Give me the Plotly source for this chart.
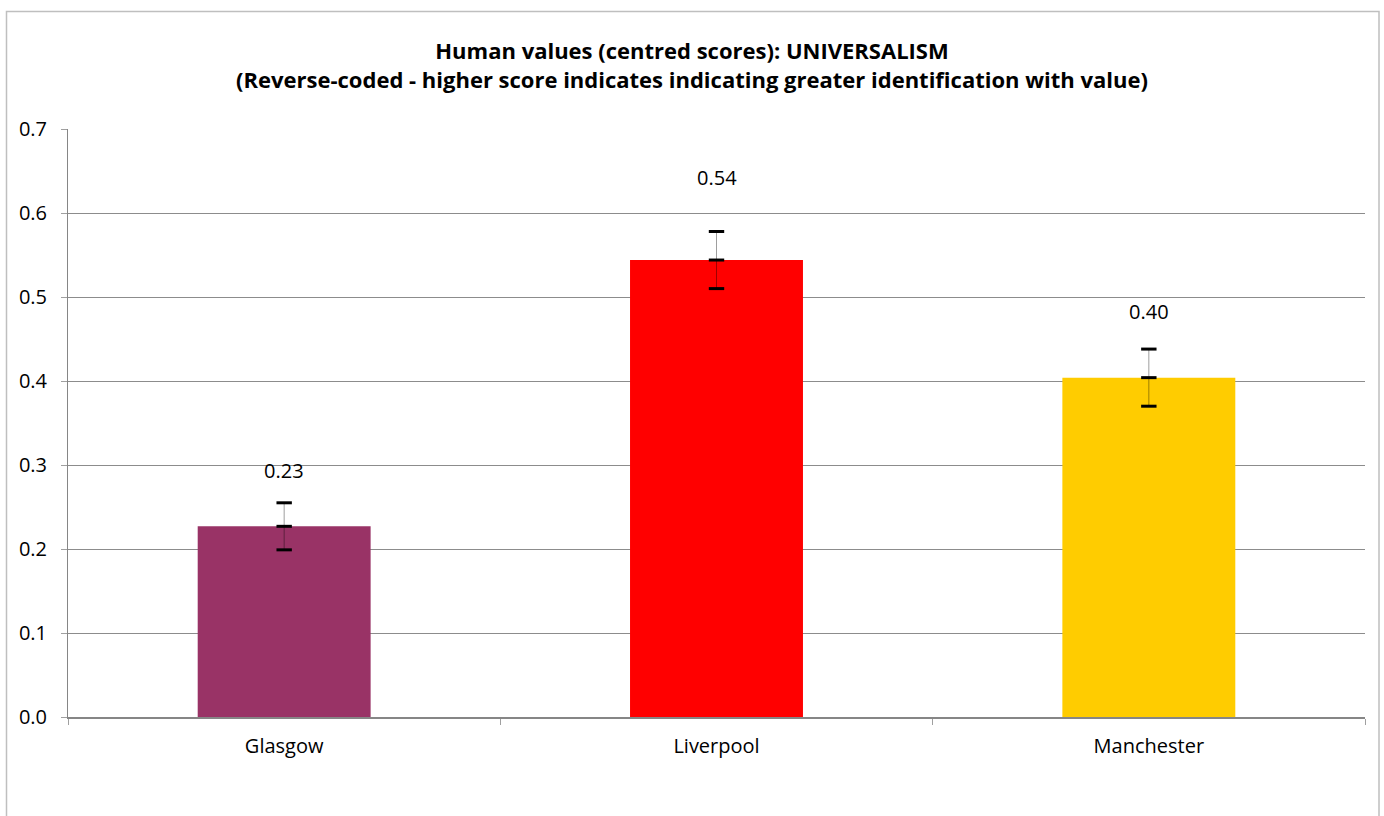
import plotly.graph_objects as go

categories = ["Glasgow", "Liverpool", "Manchester"]
values = [0.227, 0.544, 0.404]
errors = [0.028, 0.034, 0.034]
value_labels = ["0.23", "0.54", "0.40"]
bar_colors = ["#993366", "#FF0000", "#FFCC00"]
label_shift_px = [56, 83, 66]
y_ticks = [0.0, 0.1, 0.2, 0.3, 0.4, 0.5, 0.6, 0.7]

FONT = "Open Sans"
W, H = 1384, 816
L, R, T, B = 68, 19, 129, 99

fig = go.Figure()
fig.add_trace(go.Bar(
    x=categories, y=values, marker=dict(color=bar_colors, line=dict(width=0)),
    hoverinfo="x+y", showlegend=False,
))
# error bar stems
fig.add_trace(go.Scatter(
    x=categories, y=values, mode="markers",
    marker=dict(size=1, color="rgba(0,0,0,0)"),
    error_y=dict(type="data", array=errors, visible=True,
                 color="rgba(0,0,0,0.38)", thickness=1, width=0),
    showlegend=False, hoverinfo="skip",
))
# caps at lower, value and upper positions
cap_y = []
cap_x = []
for c, v, e in zip(categories, values, errors):
    for yy in (v - e, v, v + e):
        cap_x.append(c)
        cap_y.append(yy)
fig.add_trace(go.Scatter(
    x=cap_x, y=cap_y, mode="markers",
    marker=dict(symbol="line-ew", size=11, line=dict(width=3, color="black")),
    showlegend=False, hoverinfo="skip",
))

for c, v, lab, s in zip(categories, values, value_labels, label_shift_px):
    fig.add_annotation(x=c, y=v, text=lab, showarrow=False, yshift=s,
                       font=dict(family=FONT, size=20, color="black"))

pw = W - L - R
ph = H - T - B
fig.add_shape(type="rect", xref="paper", yref="paper",
              x0=(6.5 - L) / pw, x1=(W - 5 - L) / pw,
              y0=-0.3, y1=(H - B - 11.5) / ph,
              line=dict(color="#BFBFBF", width=1.5), fillcolor="rgba(0,0,0,0)",
              layer="below")

fig.update_layout(
    width=W, height=H,
    margin=dict(l=L, r=R, t=T, b=B, pad=0),
    paper_bgcolor="white", plot_bgcolor="white",
    bargap=0.6,
    font=dict(family=FONT, size=20, color="black"),
    title=dict(
        text="<b>Human values (centred scores): UNIVERSALISM<br>(Reverse-coded - higher score indicates indicating greater identification with value)</b>",
        x=0.5, xref="container", xanchor="center",
        y=1 - 59 / H, yref="container", yanchor="middle",
        font=dict(family=FONT, size=22, color="black"),
    ),
    xaxis=dict(
        type="category", tickson="boundaries", ticks="outside", ticklen=6,
        tickcolor="#A0A0A0", showline=True, linecolor="#868686", linewidth=2,
        showgrid=False, tickfont=dict(family=FONT, size=20),
        ticklabelstandoff=10,
    ),
    yaxis=dict(
        range=[0, 0.7], tickvals=y_ticks, tickformat=".1f",
        ticks="outside", ticklen=6, tickcolor="#A0A0A0",
        showline=True, linecolor="#868686", linewidth=1,
        showgrid=True, gridcolor="#8C8C8C", gridwidth=1,
        zeroline=False, tickfont=dict(family=FONT, size=20),
        ticklabelstandoff=10,
    ),
)

fig.write_html("out.html", config={"displayModeBar": False},
               post_script="document.body.style.margin='0';")
